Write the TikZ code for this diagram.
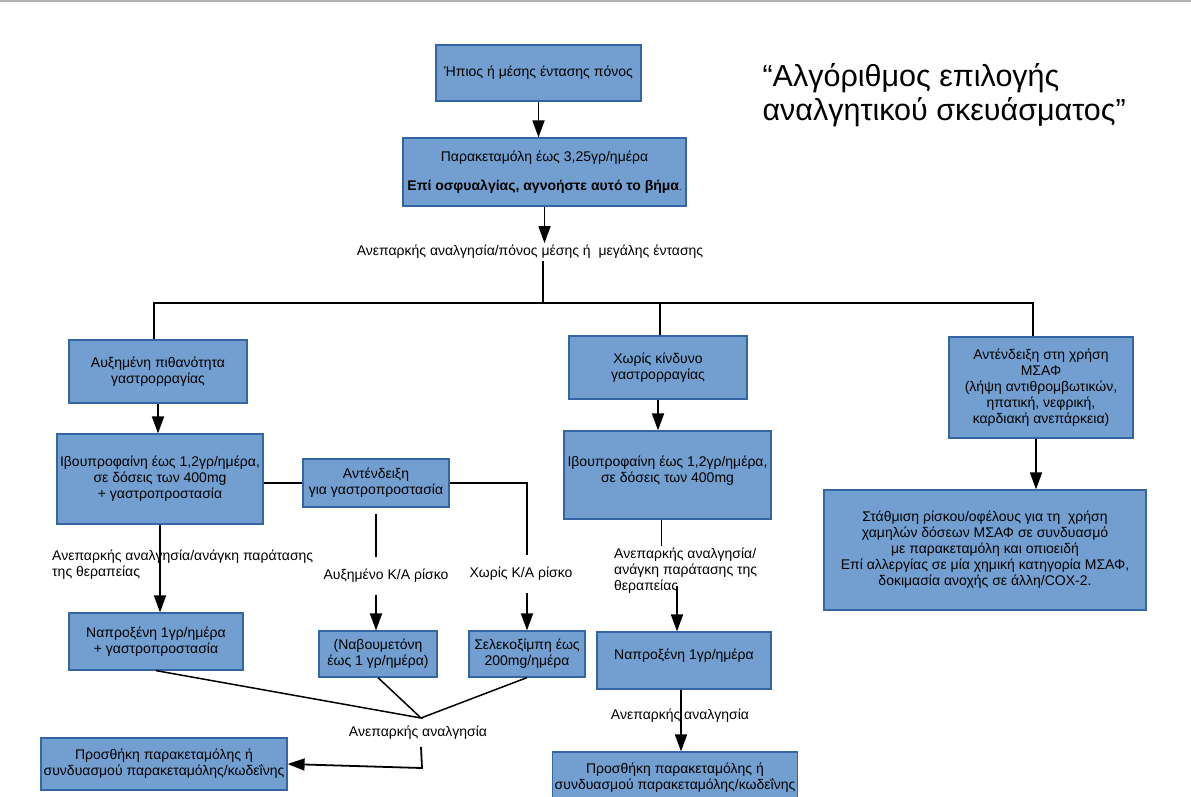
\documentclass[tikz,border=0pt]{standalone}
\usepackage{fontspec}
\setmainfont{Liberation Sans}
\usetikzlibrary{arrows.meta}
\definecolor{boxfill}{RGB}{114,159,207}
\definecolor{boxline}{RGB}{52,101,164}
\def\txt{\fontsize{14}{16}\selectfont}
\def\arr{\draw[line width=1.8pt,-{Triangle[width=12pt,length=17pt]}]}

\begin{document}
\begin{tikzpicture}[x=1pt,y=-1pt,
  box/.style={draw=boxline,fill=boxfill,line width=1.2pt,align=center,font=\txt,inner sep=2pt},
  lbl/.style={font=\txt,inner sep=2pt},
  wire/.style={line width=1.5pt}]
\useasboundingbox (0,0) rectangle (1191,796);
\draw[gray!60,line width=1.5pt] (0,1) -- (1191,1);

\node[anchor=west,align=left,font=\fontsize{30.5}{34}\selectfont] (title) at (759,95)
  {“Αλγόριθμος επιλογής\\αναλγητικού σκευάσματος”};

\node[box,minimum width=205pt,minimum height=56pt] (mild) at (538.5,73) {Ήπιος ή μέσης έντασης πόνος};
\node[box,minimum width=283pt,minimum height=68pt] (para) at (544.5,172)
  {Παρακεταμόλη έως 3,25γρ/ημέρα\\[13pt]{\bfseries Επί οσφυαλγίας, αγνοήστε αυτό το βήμα}{\small.}};
\node[lbl] (insufA) at (530,252) {Ανεπαρκής αναλγησία/πόνος μέσης ή \ μεγάλης έντασης};
\coordinate (split) at (543,303);

\node[box,minimum width=178pt,minimum height=63pt] (hirisk) at (158,371.5) {Αυξημένη πιθανότητα\\γαστρορραγίας};
\node[box,minimum width=178pt,minimum height=63pt] (norisk) at (658,367.5) {Χωρίς κίνδυνο\\γαστρορραγίας};
\node[box,minimum width=184pt,minimum height=101pt] (contra) at (1041,387.5)
  {Αντένδειξη στη χρήση\\ΜΣΑΦ\\(λήψη αντιθρομβωτικών,\\ηπατική, νεφρική,\\καρδιακή ανεπάρκεια)};

\node[box,minimum width=206pt,minimum height=90pt] (ibuA) at (160,479)
  {Ιβουπροφαίνη έως 1,2γρ/ημέρα,\\σε δόσεις των 400mg\\+ γαστροπροστασία};
\node[box,minimum width=146pt,minimum height=48pt] (gpno) at (376,483) {Αντένδειξη\\για γαστροπροστασία};
\node[box,minimum width=207pt,minimum height=88pt] (ibuB) at (667.5,475)
  {Ιβουπροφαίνη έως 1,2γρ/ημέρα,\\σε δόσεις των 400mg\\[-5pt]};
\node[box,minimum width=322pt,minimum height=120pt] (weigh) at (985,550)
  {Στάθμιση ρίσκου/οφέλους για τη \ χρήση\\χαμηλών δόσεων ΜΣΑΦ σε συνδυασμό\\με παρακεταμόλη και οπιοειδή\\Επί αλλεργίας σε μία χημική κατηγορία ΜΣΑΦ,\\δοκιμασία ανοχής σε άλλη/COX-2.};

\node[lbl,anchor=north west,align=left] (insufB) at (50,548) {Ανεπαρκής αναλγησία/ανάγκη παράτασης\\της θεραπείας};
\node[lbl,inner ysep=12pt] (cvhi) at (386,576) {Αυξημένο Κ/Α ρίσκο};
\node[lbl,inner ysep=12pt] (cvno) at (521,574) {Χωρίς Κ/Α ρίσκο};
\node[lbl,anchor=north west,align=left] (insufC) at (612,546) {Ανεπαρκής αναλγησία/\\ανάγκη παράτασης της\\θεραπείας};

\node[box,minimum width=174pt,minimum height=57pt] (naproA) at (156,641.5) {Ναπροξένη 1γρ/ημέρα\\+ γαστροπροστασία};
\node[box,minimum width=118pt,minimum height=46pt] (nabu) at (378,654) {(Ναβουμετόνη\\έως 1 γρ/ημέρα)};
\node[box,minimum width=116pt,minimum height=46pt] (celec) at (527,654) {Σελεκοξίμπη έως\\200mg/ημέρα};
\node[box,minimum width=174pt,minimum height=57pt] (naproB) at (684,660.5) {Ναπροξένη 1γρ/ημέρα\\[-3pt]};

\coordinate (meet) at (421,718);
\node[lbl] (insufD) at (418,733) {Ανεπαρκής αναλγησία};
\coordinate (bend) at (422,768);
\node[box,minimum width=246pt,minimum height=52pt] (addA) at (164,764)
  {Προσθήκη παρακεταμόλης ή\\συνδυασμού παρακεταμόλης/κωδεΐνης};
\node[box,minimum width=244pt,minimum height=52pt] (addB) at (675,778)
  {Προσθήκη παρακεταμόλης ή\\συνδυασμού παρακεταμόλης/κωδεΐνης};

\arr (mild.south) -- (mild.south |- para.north);
\arr (para.south) -- (para.south |- insufA.north);
\draw[line width=2.5pt] (insufA.south -| split) -- (split);
\draw[wire] ([xshift=-4pt]hirisk.north) |- (split) -| ([xshift=-8pt]contra.north);
\draw[wire] (split) -| ([xshift=2pt]norisk.north);

\arr (hirisk.south) -- (hirisk.south |- ibuA.north);
\draw[wire] (gpno.west -| ibuA.east) -- (gpno.west);
\draw[wire] (gpno.east) -| (cvno.north -| celec.north);
\draw[wire] ([yshift=-6pt]gpno.south) -- (cvhi.north -| gpno.south);
\arr (cvhi.south -| gpno.south) -- (gpno.south |- nabu.north);
\arr (cvno.south -| celec.north) -- (celec.north);
\arr (ibuA.south) -- (ibuA.south |- naproA.north);

\arr (norisk.south) -- (norisk.south |- ibuB.north);
\draw[wire] ([xshift=-6pt]ibuB.south) -- ([xshift=-6pt]ibuB.south |- insufC.north);
\arr ([xshift=-7pt,yshift=10pt]naproB.north |- insufC.south) -- ([xshift=-7pt]naproB.north);
\arr ([xshift=-3pt]naproB.south) -- ([xshift=-3pt]naproB.south |- addB.north);
\node[lbl] (insufE) at (680,716) {Ανεπαρκής αναλγησία};

\arr ([xshift=-5pt]contra.south) -- ([xshift=-5pt]contra.south |- weigh.north);

\draw[wire] (naproA.south) -- (meet) -- (nabu.south);
\draw[wire] (meet) -- (celec.south);
\arr ([yshift=-5pt]insufD.south -| meet) -- (bend) -- (addA.east);
\end{tikzpicture}
\end{document}
